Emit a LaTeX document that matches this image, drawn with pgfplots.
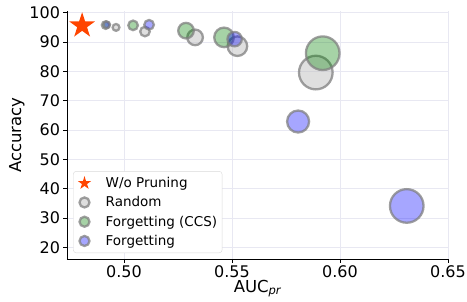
\documentclass[border=0pt]{standalone}
\usepackage{fontspec}
\setmainfont{DejaVu Sans}
\usepackage{pgfplots}
\pgfplotsset{compat=1.18}
\usetikzlibrary{plotmarks}
\definecolor{gridc}{RGB}{232,232,242}
\definecolor{orred}{RGB}{255,69,0}
\definecolor{mgreen}{RGB}{0,128,0}
\definecolor{mblue}{RGB}{0,0,255}
\pgfdeclareplotmark{fstar}{%
  \pgfpathmoveto{\pgfpointpolar{90}{\pgfplotmarksize}}%
  \pgfpathlineto{\pgfpointpolar{126}{0.382\pgfplotmarksize}}%
  \pgfpathlineto{\pgfpointpolar{162}{\pgfplotmarksize}}%
  \pgfpathlineto{\pgfpointpolar{198}{0.382\pgfplotmarksize}}%
  \pgfpathlineto{\pgfpointpolar{234}{\pgfplotmarksize}}%
  \pgfpathlineto{\pgfpointpolar{270}{0.382\pgfplotmarksize}}%
  \pgfpathlineto{\pgfpointpolar{306}{\pgfplotmarksize}}%
  \pgfpathlineto{\pgfpointpolar{342}{0.382\pgfplotmarksize}}%
  \pgfpathlineto{\pgfpointpolar{18}{\pgfplotmarksize}}%
  \pgfpathlineto{\pgfpointpolar{54}{0.382\pgfplotmarksize}}%
  \pgfpathclose
  \pgfusepathqfill
}
\begin{document}
\begin{tikzpicture}
\useasboundingbox (0,0) rectangle (467pt,301pt);
\begin{axis}[
  at={(67pt,42pt)}, anchor=south west,
  scale only axis, width=381pt, height=248pt,
  xmin=0.4736, xmax=0.65, ymin=16, ymax=100.6,
  axis x line*=bottom, axis y line*=left,
  axis line style={line width=0.9pt, -},
  xtick={0.5,0.55,0.6,0.65}, ytick={20,30,...,100},
  x tick label style={/pgf/number format/fixed, /pgf/number format/fixed zerofill, /pgf/number format/precision=2},
  /pgf/number format/assume math mode=true,
  tick label style={font=\fontsize{16}{19}\selectfont},
  label style={font=\fontsize{16.5}{19}\selectfont},
  xlabel={AUC\textsubscript{\itshape pr}},
  ylabel={Accuracy},
  xlabel style={yshift=5pt},
  ylabel style={yshift=-2pt},
  grid=major, major grid style={gridc, line width=0.8pt},
  tick align=outside, major tick length=3.5pt, tick style={black, line width=0.8pt},
  clip=false,
  legend style={at={(axis description cs:0.016,0.024)}, anchor=south west,
    draw=gray!30, rounded corners=3pt, font=\fontsize{13.5}{16}\selectfont,
    row sep=3.5pt, inner xsep=3pt, inner ysep=4pt},
  legend cell align=left,
  legend image code/.code={\path (0pt,0pt) (27pt,0pt); \draw[only marks,#1] plot coordinates {(8pt,0pt)};},
]
\addlegendimage{mark=fstar, mark size=7, orred}
\addlegendentry{W/o Pruning}
\addlegendimage{mark=*, mark size=5, mark options={draw=gray, draw opacity=0.75, fill=lightgray, fill opacity=0.5, line width=2.3pt}}
\addlegendentry{Random}
\addlegendimage{mark=*, mark size=5, mark options={draw=gray, draw opacity=0.75, fill=mgreen, fill opacity=0.35, line width=2.3pt}}
\addlegendentry{Forgetting (CCS)}
\addlegendimage{mark=*, mark size=5, mark options={draw=gray, draw opacity=0.75, fill=mblue, fill opacity=0.35, line width=2.3pt}}
\addlegendentry{Forgetting}

% Random
\addplot[scatter, only marks, mark=*, forget plot,
  scatter/use mapped color={draw=gray, draw opacity=0.75, fill=lightgray, fill opacity=0.5, line width=2.3pt},
  visualization depends on={\thisrow{r} \as \rr},
  scatter/@pre marker code/.append style={/tikz/mark size=\rr}]
table {
x y r
0.4963 95.0 3.4
0.5097 93.6 4.8
0.5329 91.6 7.8
0.5525 88.6 9.8
0.5888 79.6 16.8
};
% Forgetting (CCS)
\addplot[scatter, only marks, mark=*, forget plot,
  scatter/use mapped color={draw=gray, draw opacity=0.75, fill=mgreen, fill opacity=0.35, line width=2.3pt},
  visualization depends on={\thisrow{r} \as \rr},
  scatter/@pre marker code/.append style={/tikz/mark size=\rr}]
table {
x y r
0.4915 95.8 3.8
0.5042 95.7 4.8
0.5287 93.9 7.8
0.5463 91.6 9.8
0.5920 86.2 16.8
};
% Forgetting
\addplot[scatter, only marks, mark=*, forget plot,
  scatter/use mapped color={draw=gray, draw opacity=0.75, fill=mblue, fill opacity=0.35, line width=2.3pt},
  visualization depends on={\thisrow{r} \as \rr},
  scatter/@pre marker code/.append style={/tikz/mark size=\rr}]
table {
x y r
0.4920 95.9 3.3
0.5116 95.9 4.8
0.5512 91.0 7.2
0.5806 62.9 11.0
0.6309 34.1 16.8
};
% W/o pruning
\addplot[only marks, mark=fstar, mark size=13.5, color=orred, forget plot]
coordinates {(0.4806,95.6)};
\end{axis}
\end{tikzpicture}
\end{document}
